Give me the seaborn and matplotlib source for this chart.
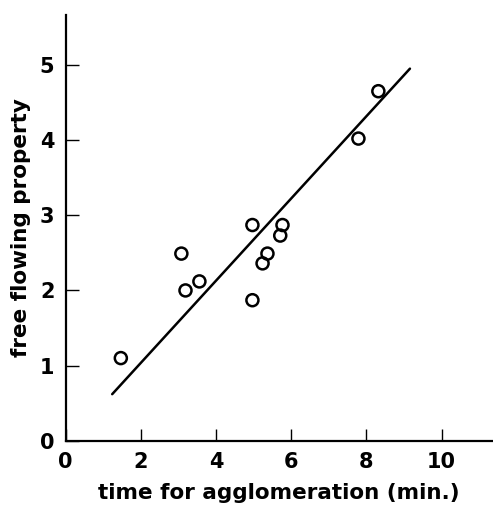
import numpy as np
import pandas as pd
import seaborn as sns
import matplotlib.pyplot as plt

# measured points
time_min = [1.47, 3.08, 3.19, 3.56, 4.97, 4.97, 5.24, 5.37, 5.71, 5.77, 7.79, 8.32]
flow_prop = [1.10, 2.49, 2.00, 2.12, 2.87, 1.87, 2.36, 2.49, 2.73, 2.87, 4.02, 4.65]

# fitted line end points
fit_x = [1.24, 9.16]
fit_y = [0.62, 4.95]

df = pd.DataFrame({"time": time_min, "flow": flow_prop})
fit = pd.DataFrame({"time": fit_x, "flow": fit_y})

sns.set_style("ticks")
plt.rcParams["font.family"] = ["DejaVu Sans"]
plt.rcParams["font.weight"] = "bold"
plt.rcParams["text.color"] = "black"
plt.rcParams["axes.labelcolor"] = "black"
plt.rcParams["xtick.color"] = "black"
plt.rcParams["ytick.color"] = "black"

fig = plt.figure(figsize=(4.93, 5.09), dpi=100)
ax = fig.add_axes([0.133, 0.134, 0.864, 0.836])

sns.lineplot(data=fit, x="time", y="flow", color="black", linewidth=1.8, ax=ax)
sns.scatterplot(data=df, x="time", y="flow", s=75, facecolor="none",
                edgecolor="black", linewidth=1.8, ax=ax)

ax.set_xlim(0, 11.33)
ax.set_ylim(0, 5.66)
ax.set_xticks([0, 2, 4, 6, 8, 10])
ax.set_yticks([0, 1, 2, 3, 4, 5])
ax.tick_params(direction="in", length=9, width=1, labelsize=15, pad=8,
               colors="black")
for lab in ax.get_xticklabels() + ax.get_yticklabels():
    lab.set_fontweight("bold")

sns.despine(ax=ax)
for s in ["left", "bottom"]:
    ax.spines[s].set_linewidth(1.6)
    ax.spines[s].set_color("black")

ax.set_xlabel("time for agglomeration (min.)", fontsize=15.5, fontweight="bold",
              labelpad=8, color="black")
ax.set_ylabel("free flowing property", fontsize=15.5, fontweight="bold",
              labelpad=6, color="black")

fig.savefig("out.png", dpi=100)
